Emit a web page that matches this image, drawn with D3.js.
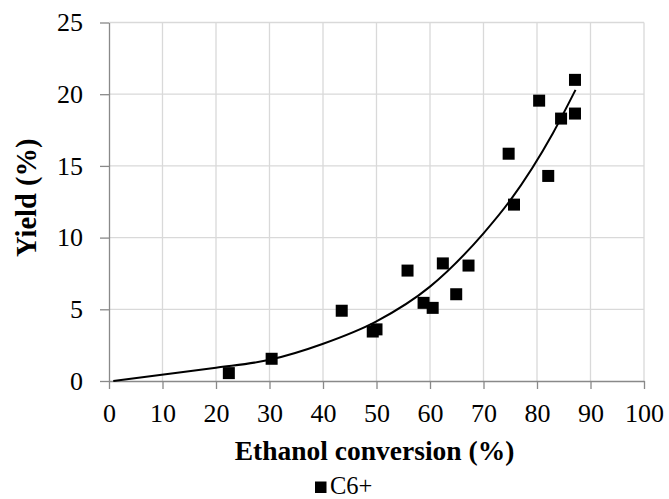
<!DOCTYPE html>
<html>
<head>
<meta charset="utf-8">
<script src="https://cdn.jsdelivr.net/npm/d3@7"></script>
</head>
<body style="margin:0;background:#fff">
<div id="chart"></div>
<script>
const width = 669;
const height = 499;
const serif = "Liberation Serif";

// C6+ yield vs ethanol conversion
const conversion = [22.4, 30.4, 43.5, 49.3, 50.0, 55.8, 58.8, 60.5, 62.4, 64.9, 67.2, 74.7, 75.7, 80.4, 82.1, 84.5, 87.1, 87.1];
const yieldC6 = [0.55, 1.55, 4.9, 3.45, 3.6, 7.7, 5.45, 5.1, 8.2, 6.05, 8.05, 15.85, 12.3, 19.55, 14.3, 18.3, 21.0, 18.65];

// trend line
const trendX = [0.8, 9.5, 20, 29.8, 39.9, 49.9, 60, 70, 75, 83, 87.2];
const trendY = [0, 0.42, 0.93, 1.46, 2.58, 4.14, 6.58, 10.3, 12.6, 17.3, 20.3];

const xTicks = [0, 10, 20, 30, 40, 50, 60, 70, 80, 90, 100];
const yTicks = [0, 5, 10, 15, 20, 25];

const margin = { top: 22.5, right: 25, bottom: 118, left: 109 };

const svg = d3.select("#chart").append("svg")
   .attr("width", width)
   .attr("height", height)
   .attr("font-family", serif);

const x = d3.scaleLinear()
   .domain([0, 100])
   .range([margin.left, width - margin.right]);

const y = d3.scaleLinear()
   .domain([0, 25])
   .range([height - margin.bottom, margin.top]);

// gridlines
svg.append("g")
   .selectAll("line.vgrid")
   .data(xTicks.slice(1))
   .enter()
   .append("line")
   .attr("x1", d => x(d)).attr("x2", d => x(d))
   .attr("y1", y(0)).attr("y2", y(25))
   .attr("stroke", "#d9d9d9")
   .attr("stroke-width", 1.3);

svg.append("g")
   .selectAll("line.hgrid")
   .data(yTicks.slice(1))
   .enter()
   .append("line")
   .attr("x1", x(0)).attr("x2", x(100))
   .attr("y1", d => y(d)).attr("y2", d => y(d))
   .attr("stroke", "#d9d9d9")
   .attr("stroke-width", 1.3);

// axes
const xAxis = svg.append("g")
   .attr("transform", `translate(0, ${y(0)})`)
   .call(d3.axisBottom(x).tickValues(xTicks).tickSize(8).tickPadding(15).tickSizeOuter(0));

const yAxis = svg.append("g")
   .attr("transform", `translate(${x(0)}, 0)`)
   .call(d3.axisLeft(y).tickValues(yTicks).tickSize(9).tickPadding(17).tickSizeOuter(0));

[xAxis, yAxis].forEach(a => {
   a.attr("font-family", serif).attr("font-size", 26);
   a.select(".domain").attr("stroke", "#898989").attr("stroke-width", 1.3);
   a.selectAll(".tick line").attr("stroke", "#898989").attr("stroke-width", 1.3);
   a.selectAll(".tick text").attr("fill", "#000");
});

// trend line
const trend = trendX.map((d, i) => ({ x: d, y: trendY[i] }));
svg.append("path")
   .datum(trend)
   .attr("fill", "none")
   .attr("stroke", "#000")
   .attr("stroke-width", 2)
   .attr("d", d3.line()
      .x(d => x(d.x))
      .y(d => y(d.y))
      .curve(d3.curveMonotoneX));

// markers
const size = 12;
svg.selectAll("rect.pt")
   .data(conversion.map((d, i) => ({ x: d, y: yieldC6[i] })))
   .enter()
   .append("rect")
   .attr("class", "pt")
   .attr("x", d => x(d.x) - size / 2)
   .attr("y", d => y(d.y) - size / 2)
   .attr("width", size)
   .attr("height", size)
   .attr("fill", "#000");

// axis titles
svg.append("text")
   .attr("x", (x(0) + x(100)) / 2 - 2)
   .attr("y", 460)
   .attr("text-anchor", "middle")
   .attr("font-size", 27.5)
   .attr("font-weight", "bold")
   .text("Ethanol conversion (%)");

svg.append("text")
   .attr("transform", `translate(36, ${(y(0) + y(25)) / 2 - 4}) rotate(-90)`)
   .attr("text-anchor", "middle")
   .attr("font-size", 28.5)
   .attr("font-weight", "bold")
   .text("Yield (%)");

// legend
svg.append("rect")
   .attr("x", 315)
   .attr("y", 481.5)
   .attr("width", 11.5)
   .attr("height", 11.5)
   .attr("fill", "#000");

svg.append("text")
   .attr("x", 330)
   .attr("y", 493.5)
   .attr("font-size", 24.5)
   .text("C6+");
</script>
</body>
</html>
